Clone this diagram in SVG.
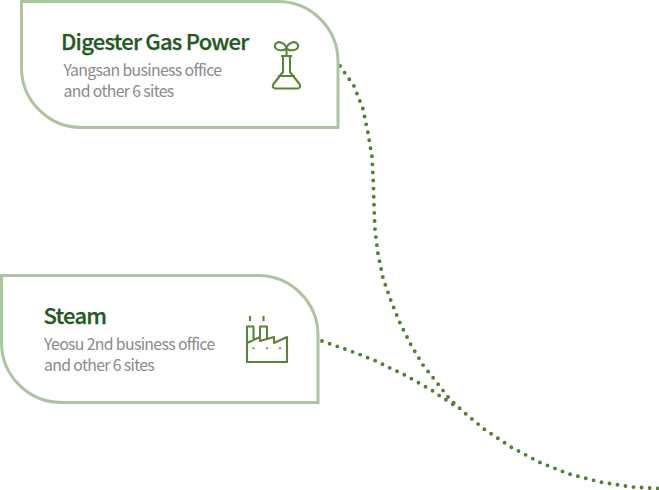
<svg xmlns="http://www.w3.org/2000/svg" width="659" height="490" viewBox="0 0 659 490">
<style>
.box{fill:#fff;stroke:#aec39f;stroke-width:3}
.t{font-family:"Noto Sans CJK KR","Noto Sans",sans-serif;font-size:22px;font-weight:500;fill:#235a1e;letter-spacing:-.78px;stroke:#235a1e;stroke-width:.25}
.s{font-family:"Noto Sans CJK KR","Noto Sans",sans-serif;font-size:15.8px;fill:#8a8a8a;letter-spacing:-.64px}
.i{fill:none;stroke:#5a8437;stroke-width:2.1;stroke-linejoin:round}
.c{fill:none;stroke:#54802f;stroke-width:3.9;stroke-linecap:round;stroke-dasharray:0 8.1}
</style>
<g id="connectors">
<path class="c" d="M340 66L354 86L363 109L368 133L372 157L373.300 182L374 206L375 230L378 254L383 278L391 301L400 323L411 345L423 365L438 384L448 397L454 403L466 414L484 429L511 447L539 462L569 474L600 482L632 487L659 488.500"/>
<path class="c" d="M322 341L345.700 349.300L361 355L376 361L390 368L405 375L419 383L433 391L440 396L454 405"/>
</g>
<g id="node-digester">
<path class="box" d="M21.500 1.500H278A60 60 0 0 1 338 61.500V127.500H81.500A60 60 0 0 1 21.500 67.500Z"/>
<text class="t" x="61" y="49.500">Digester Gas Power</text>
<text class="s" x="63.500" y="76">Yangsan business office</text>
<text class="s" x="63.500" y="97">and other 6 sites</text>
<path class="i" d="M281 56H292M283 56V72L273.500 84Q271.500 88 275.500 88.500H297.500Q301.500 88 299.500 84L290 72V56M278 76H295M286.500 56V48C285 43 279 41 276.500 43C273.500 45.500 275 49.500 279 50C282 50.500 285.500 50 286.500 48C287.500 50 291 50.500 294 50C298 49.500 299.500 45.500 296.500 43C294 41 288 43 286.500 48"/>
</g>
<g id="node-steam">
<path class="box" d="M1.500 275.500H258A60 60 0 0 1 318 335.500V402.500H61.500A60 60 0 0 1 1.500 342.500Z"/>
<text class="t" x="43.500" y="323.500">Steam</text>
<text class="s" x="44" y="350">Yeosu 2nd business office</text>
<text class="s" x="44" y="371">and other 6 sites</text>
<path class="i" d="M247 343V326.500H253.500V340M260 337V326.500H267V340M247 343L260 337V341L267 339L274 337V343L287 337V362H247Z"/>
<path class="i" d="M250 316V321M263.500 316V321M253.500 347.500V349M267 347.500V349M280 347.500V349"/>
</g>
</svg>
